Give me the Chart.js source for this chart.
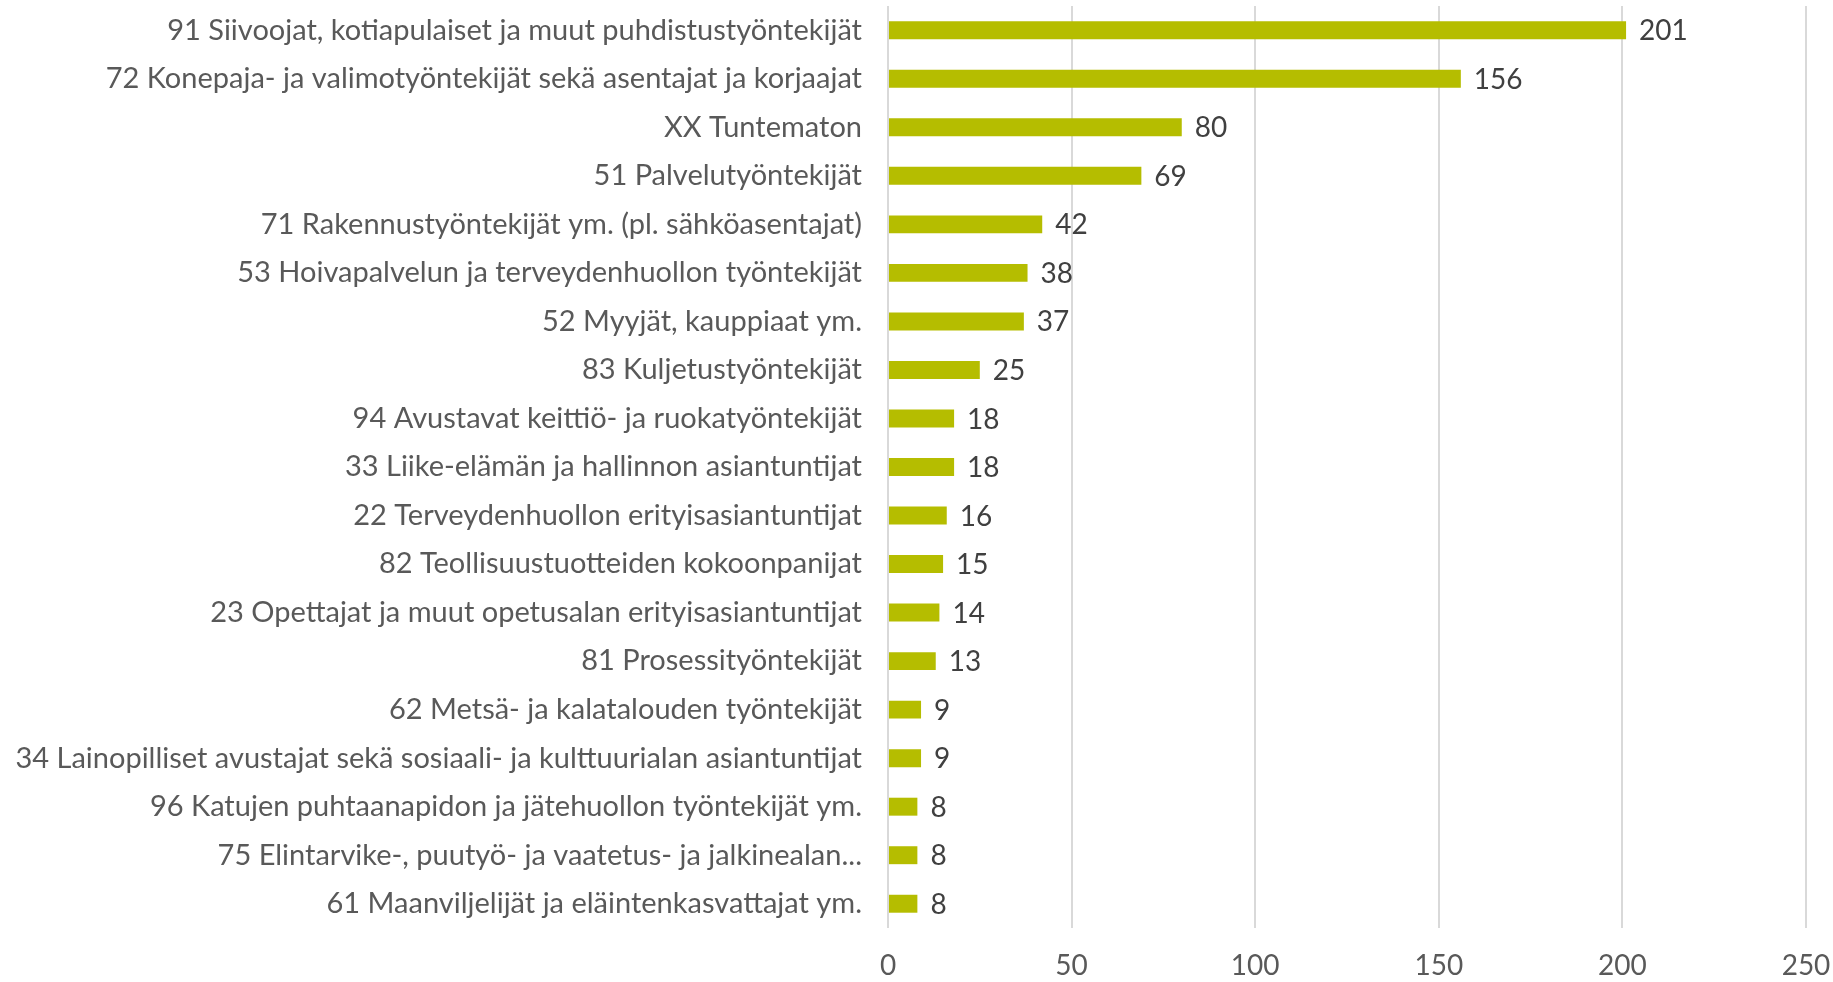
<!DOCTYPE html>
<html>
<head>
<meta charset="utf-8">
<script src="https://cdn.jsdelivr.net/npm/chart.js@4.4.1/dist/chart.umd.min.js"></script>
<style>
  html, body { margin: 0; padding: 0; background: #ffffff; }
  #wrap { width: 1833px; height: 982px; }
</style>
</head>
<body>
<div id="wrap"><canvas id="chart" width="1833" height="982"></canvas></div>
<script>
const categories = [
  "91 Siivoojat, kotiapulaiset ja muut puhdistustyöntekijät",
  "72 Konepaja- ja valimotyöntekijät sekä asentajat ja korjaajat",
  "XX Tuntematon",
  "51 Palvelutyöntekijät",
  "71 Rakennustyöntekijät ym. (pl. sähköasentajat)",
  "53 Hoivapalvelun ja terveydenhuollon työntekijät",
  "52 Myyjät, kauppiaat ym.",
  "83 Kuljetustyöntekijät",
  "94 Avustavat keittiö- ja ruokatyöntekijät",
  "33 Liike-elämän ja hallinnon asiantuntijat",
  "22 Terveydenhuollon erityisasiantuntijat",
  "82 Teollisuustuotteiden kokoonpanijat",
  "23 Opettajat ja muut opetusalan erityisasiantuntijat",
  "81 Prosessityöntekijät",
  "62 Metsä- ja kalatalouden työntekijät",
  "34 Lainopilliset avustajat sekä sosiaali- ja kulttuurialan asiantuntijat",
  "96 Katujen puhtaanapidon ja jätehuollon työntekijät ym.",
  "75 Elintarvike-, puutyö- ja vaatetus- ja jalkinealan...",
  "61 Maanviljelijät ja eläintenkasvattajat ym."
];
const counts = [201, 156, 80, 69, 42, 38, 37, 25, 18, 18, 16, 15, 14, 13, 9, 9, 8, 8, 8];
const xTicks = [0, 50, 100, 150, 200, 250];

const fontFamily = "Lato, 'Noto Sans', sans-serif";
const textColor = "#595959";

// value labels to the right of each bar
const valueLabels = {
  id: "valueLabels",
  afterDatasetsDraw(chart) {
    const ctx = chart.ctx;
    const meta = chart.getDatasetMeta(0);
    ctx.save();
    ctx.font = "28px " + fontFamily;
    ctx.fillStyle = "#404040";
    ctx.textAlign = "left";
    ctx.textBaseline = "middle";
    meta.data.forEach((bar, i) => {
      ctx.fillText(String(counts[i]), bar.x + 13, bar.y + 1);
    });
    ctx.restore();
  }
};

new Chart(document.getElementById("chart"), {
  type: "bar",
  data: {
    labels: categories,
    datasets: [{
      data: counts,
      backgroundColor: "#B5BD00",
      borderWidth: 0,
      barPercentage: 0.5,
      categoryPercentage: 0.74
    }]
  },
  plugins: [valueLabels],
  options: {
    indexAxis: "y",
    responsive: false,
    animation: false,
    devicePixelRatio: 1,
    layout: { padding: { top: 6, right: 27, left: 0, bottom: 0 } },
    plugins: {
      legend: { display: false },
      tooltip: { enabled: false }
    },
    scales: {
      x: {
        min: 0,
        max: 250,
        afterBuildTicks(scale) {
          scale.ticks = xTicks.map(v => ({ value: v }));
        },
        afterFit(scale) {
          scale.height = 54;
          scale.paddingLeft = 0;
          scale.paddingRight = 0;
        },
        grid: { color: "#D9D9D9", lineWidth: 2, drawTicks: false },
        border: { display: false },
        ticks: {
          padding: 21,
          color: textColor,
          font: { family: fontFamily, size: 28 }
        }
      },
      y: {
        afterFit(scale) {
          scale.width = 888;
          scale.paddingTop = 0;
          scale.paddingBottom = 0;
        },
        grid: { display: false, drawTicks: false },
        border: { display: false },
        ticks: {
          padding: 26,
          autoSkip: false,
          color: textColor,
          font: { family: fontFamily, size: 29 }
        }
      }
    }
  }
});
</script>
</body>
</html>
